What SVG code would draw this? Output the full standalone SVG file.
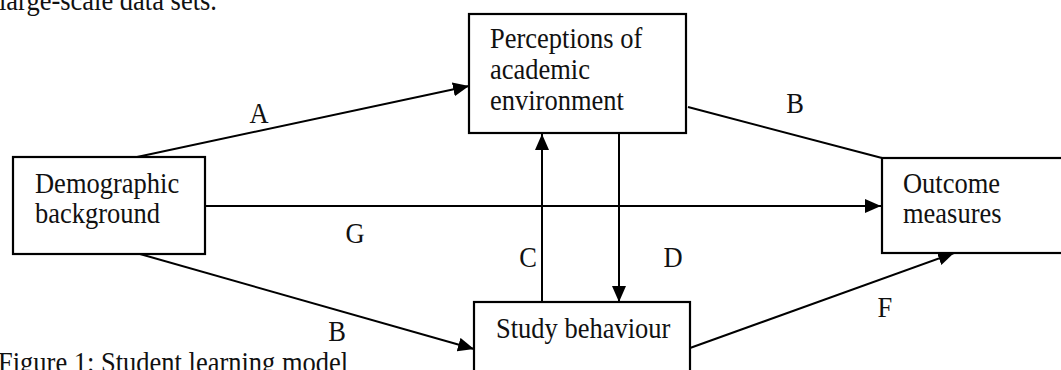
<svg xmlns="http://www.w3.org/2000/svg" width="1061" height="370" viewBox="0 0 1061 370">
<defs>
<marker id="arr" markerUnits="userSpaceOnUse" markerWidth="17" markerHeight="14" refX="16" refY="7" orient="auto">
<path d="M0,0 L16,7 L0,14 Z" fill="#000"/>
</marker>
<style>
text{font-family:"Liberation Serif","Times New Roman",serif;font-size:26.5px;fill:#111}
.box{fill:#fff;stroke:#000;stroke-width:2.2}
.ln{stroke:#000;stroke-width:2;fill:none}
.lbl{text-anchor:middle}
</style>
</defs>
<rect width="1061" height="370" fill="#fff"/>
<text x="-1" y="10" transform="matrix(1,0,0,1.1,0,-1)">large-scale data sets.</text>
<g id="connectors">
<line class="ln" x1="137" y1="157" x2="469" y2="86" marker-end="url(#arr)"/>
<line class="ln" x1="688" y1="107" x2="882" y2="158"/>
<line class="ln" x1="205" y1="206" x2="881" y2="206" marker-end="url(#arr)"/>
<line class="ln" x1="140" y1="254" x2="474" y2="349" marker-end="url(#arr)"/>
<line class="ln" x1="542" y1="302" x2="542" y2="134" marker-end="url(#arr)"/>
<line class="ln" x1="619" y1="134" x2="619" y2="302" marker-end="url(#arr)"/>
<line class="ln" x1="690" y1="348" x2="954" y2="253" marker-end="url(#arr)"/>
<text class="lbl" x="259" y="123" transform="matrix(1,0,0,1.1,0,-12.3)">A</text>
<text class="lbl" x="795" y="113" transform="matrix(1,0,0,1.1,0,-11.3)">B</text>
<text class="lbl" x="355" y="243" transform="matrix(1,0,0,1.1,0,-24.3)">G</text>
<text class="lbl" x="337" y="341" transform="matrix(1,0,0,1.1,0,-34.1)">B</text>
<text class="lbl" x="528" y="267" transform="matrix(1,0,0,1.1,0,-26.7)">C</text>
<text class="lbl" x="673" y="267" transform="matrix(1,0,0,1.1,0,-26.7)">D</text>
<text class="lbl" x="885" y="317" transform="matrix(1,0,0,1.1,0,-31.7)">F</text>
</g>
<g id="demographic">
<rect class="box" x="13" y="157" width="192" height="97"/>
<text x="35" y="193" transform="matrix(1,0,0,1.1,0,-19.3)">Demographic</text>
<text x="35" y="223" transform="matrix(1,0,0,1.1,0,-22.3)">background</text>
</g>
<g id="perceptions">
<rect class="box" x="469" y="14" width="217" height="119"/>
<text x="490" y="48" transform="matrix(1,0,0,1.1,0,-4.8)">Perceptions of</text>
<text x="490" y="79" transform="matrix(1,0,0,1.1,0,-7.9)">academic</text>
<text x="490" y="110" transform="matrix(1,0,0,1.1,0,-11)">environment</text>
</g>
<g id="outcome">
<rect class="box" x="882" y="158" width="190" height="95"/>
<text x="903" y="193" transform="matrix(1,0,0,1.1,0,-19.3)">Outcome</text>
<text x="903" y="223" transform="matrix(1,0,0,1.1,0,-22.3)">measures</text>
</g>
<g id="study">
<rect class="box" x="474" y="302" width="216" height="90"/>
<text x="496" y="338" transform="matrix(1,0,0,1.1,0,-33.8)">Study behaviour</text>
</g>
<text x="-2" y="372" transform="matrix(1,0,0,1.1,0,-37.2)">Figure 1: Student learning model</text>
</svg>
